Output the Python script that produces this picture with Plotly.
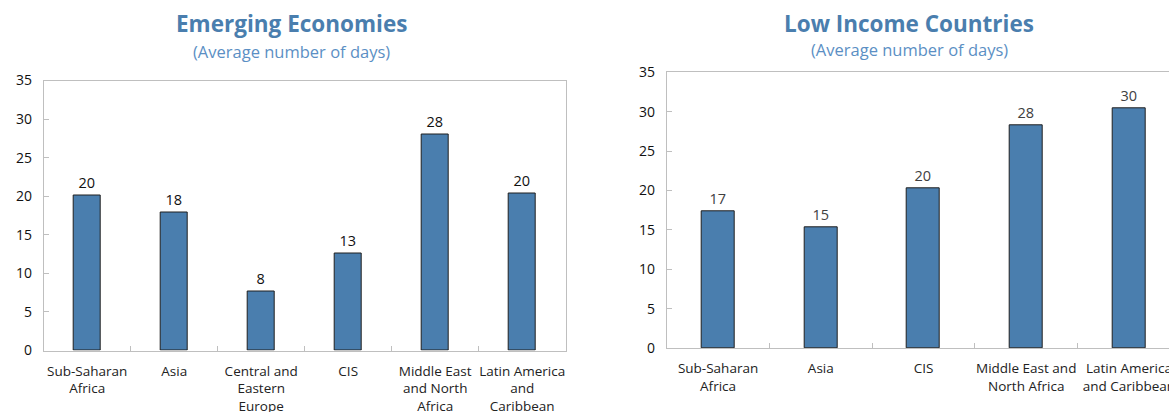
import plotly.graph_objects as go

# Emerging economies: average number of days
em_regions = ["Sub-Saharan<br>Africa", "Asia", "Central and<br>Eastern<br>Europe", "CIS",
              "Middle East<br>and North<br>Africa", "Latin America<br>and<br>Caribbean"]
em_days = [20.1, 17.9, 7.6, 12.6, 28.0, 20.3]

# Low income countries: average number of days
lic_regions = ["Sub-Saharan<br>Africa", "Asia", "CIS", "Middle East and<br>North Africa",
               "Latin America<br>and Caribbean"]
lic_days = [17.3, 15.3, 20.3, 28.3, 30.4]

y_ticks = [0, 5, 10, 15, 20, 25, 30, 35]

FONT = "Open Sans"
BAR = "#4a7eae"
TITLE_BLUE = "#4a7eae"
SUB_BLUE = "#5b8fc4"
AXIS_GRAY = "#bfbfbf"

W, H = 1169, 412

fig = go.Figure()

fig.add_trace(go.Bar(
    x=em_regions, y=em_days, xaxis="x", yaxis="y",
    width=0.32, marker=dict(color=BAR, line=dict(color="#1f1f1f", width=1)),
    texttemplate="%{y:.0f}", textposition="outside",
    textfont=dict(family=FONT, size=14.5, color="#111111"),
    cliponaxis=False, showlegend=False,
))
fig.add_trace(go.Bar(
    x=lic_regions, y=lic_days, xaxis="x2", yaxis="y2",
    width=0.32, marker=dict(color=BAR, line=dict(color="#1f1f1f", width=1)),
    texttemplate="%{y:.0f}", textposition="outside",
    textfont=dict(family=FONT, size=14.5, color="#404040"),
    cliponaxis=False, showlegend=False,
))

def xaxis(domain, rng, anchor):
    return dict(domain=domain, range=rng, anchor=anchor, type="category",
                showline=True, linecolor=AXIS_GRAY, linewidth=1, mirror=True,
                ticks="inside", ticklen=5, tickcolor=AXIS_GRAY, tickson="boundaries",
                showgrid=False, zeroline=False, automargin=False,
                ticklabelstandoff=8,
                tickfont=dict(family=FONT, size=13.5, color="#222222"), tickangle=0)

def yaxis(domain, anchor):
    return dict(domain=domain, range=[0, 35], anchor=anchor,
                tickvals=y_ticks, showline=True, linecolor=AXIS_GRAY, linewidth=1,
                mirror=True, ticks="inside", ticklen=5, tickcolor=AXIS_GRAY,
                showgrid=False, zeroline=False, automargin=False,
                ticklabelstandoff=8,
                tickfont=dict(family=FONT, size=14, color="#111111"))

fig.update_layout(
    width=W, height=H,
    margin=dict(l=0, r=0, t=0, b=0),
    paper_bgcolor="white", plot_bgcolor="white",
    font=dict(family=FONT),
    bargap=0,
    xaxis=xaxis([43.7 / W, 565.7 / W], [-0.5, 5.5], "y"),
    yaxis=yaxis([61.5 / H, 331.5 / H], "x"),
    xaxis2=xaxis([666.7 / W, 1.0], [-0.5, 4.39], "y2"),
    yaxis2=yaxis([64 / H, 339.7 / H], "x2"),
    annotations=[
        dict(text="<b>Emerging Economies</b>", x=291 / W, y=1 - 24 / H,
             xref="paper", yref="paper", showarrow=False, xanchor="center", yanchor="middle",
             font=dict(family=FONT, size=22.5, color=TITLE_BLUE)),
        dict(text="(Average number of days)", x=291 / W, y=1 - 51 / H,
             xref="paper", yref="paper", showarrow=False, xanchor="center", yanchor="middle",
             font=dict(family=FONT, size=16.5, color=SUB_BLUE)),
        dict(text="<b>Low Income Countries</b>", x=909 / W, y=1 - 24 / H,
             xref="paper", yref="paper", showarrow=False, xanchor="center", yanchor="middle",
             font=dict(family=FONT, size=22.5, color=TITLE_BLUE)),
        dict(text="(Average number of days)", x=909 / W, y=1 - 50 / H,
             xref="paper", yref="paper", showarrow=False, xanchor="center", yanchor="middle",
             font=dict(family=FONT, size=16.5, color=SUB_BLUE)),
    ],
)

fig.write_html("out.html")
